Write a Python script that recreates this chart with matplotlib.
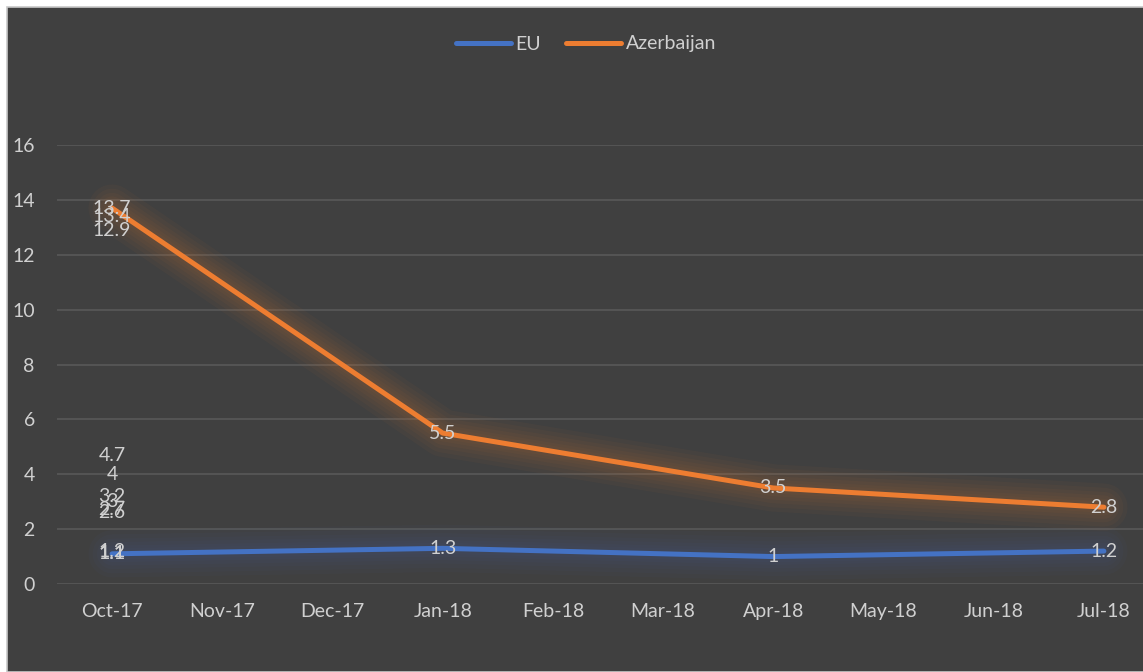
import matplotlib
matplotlib.use("Agg")
import matplotlib.pyplot as plt
import matplotlib.patheffects as pe
from matplotlib.patches import Rectangle

# Category axis (months) and series values
months = ["Oct-17", "Nov-17", "Dec-17", "Jan-18", "Feb-18",
          "Mar-18", "Apr-18", "May-18", "Jun-18", "Jul-18"]

eu_idx = [0, 3, 6, 9]
eu_vals = [1.1, 1.3, 1.0, 1.2]

az_idx = [0, 3, 6, 9]
az_vals = [13.7, 5.5, 3.5, 2.8]

# extra overlapping labels that sit on the first category
eu_extra = [1.2, 1.1]
az_extra = [13.4, 12.9]
other_extra = [4.7, 4, 3.2, 3, 2.7, 2.6]

bg = "#404040"
grid_c = "#595959"
text_c = "#d0d0d0"
blue = "#4472C4"
orange = "#ED7D31"
font_s = 14

plt.rcParams["font.family"] = ["Lato", "DejaVu Sans"]

W, H = 1143, 672
fig = plt.figure(figsize=(W / 100, H / 100), dpi=100)
fig.patch.set_facecolor("white")
fig.patches.append(Rectangle((7 / W, 0), 1.0, 1 - 7 / H, transform=fig.transFigure,
                             facecolor=bg, edgecolor="#c8c8c8", linewidth=1.2,
                             zorder=-5))

# plot area spans past the right edge of the picture, as in the source
left, right, top, bottom = 57, 1159, 145, 584
ax = fig.add_axes([left / W, 1 - bottom / H, (right - left) / W, (bottom - top) / H])
ax.set_zorder(2)
ax.set_facecolor("none")
ax.set_xlim(-0.5, len(months) - 0.5)
ax.set_ylim(0, 16)
ax.set_yticks(range(0, 17, 2))
ax.set_xticks(range(len(months)))
ax.set_xticklabels(months)
for s in ax.spines.values():
    s.set_visible(False)
ax.tick_params(length=0, colors=text_c, labelsize=font_s)
ax.tick_params(axis="y", pad=16)
ax.tick_params(axis="x", pad=14)
ax.grid(axis="y", color=grid_c, linewidth=1.2)
ax.set_axisbelow(True)


def glow(color, a):
    # soft halo: several wide, faint strokes under the line
    return [pe.Stroke(linewidth=w, foreground=color, alpha=a, capstyle="round",
                      joinstyle="round")
            for w in (34, 28, 22, 17, 12, 8)] + [pe.Normal()]


ax.plot(eu_idx, eu_vals, color=blue, linewidth=3.6, label="EU",
        solid_capstyle="round", path_effects=glow(blue, 0.035), zorder=3)
ax.plot(az_idx, az_vals, color=orange, linewidth=3.6, label="Azerbaijan",
        solid_capstyle="round", path_effects=glow(orange, 0.04), zorder=3)


def lab(x, v):
    ax.text(x, v, f"{v:g}", ha="center", va="center", color=text_c,
            fontsize=font_s, zorder=5)


for x, v in zip(eu_idx, eu_vals):
    lab(x, v)
for x, v in zip(az_idx, az_vals):
    lab(x, v)
for v in eu_extra + az_extra + other_extra:
    lab(0, v)

leg = fig.legend(loc="center", bbox_to_anchor=(586 / W, 1 - 44 / H), ncol=2,
                 frameon=False, fontsize=font_s, handlelength=2.8,
                 handletextpad=0.25, columnspacing=1.3)
for t in leg.get_texts():
    t.set_color(text_c)
for h in leg.legend_handles:
    h.set_path_effects([])

fig.savefig("out.png", dpi=100, facecolor=fig.get_facecolor())
